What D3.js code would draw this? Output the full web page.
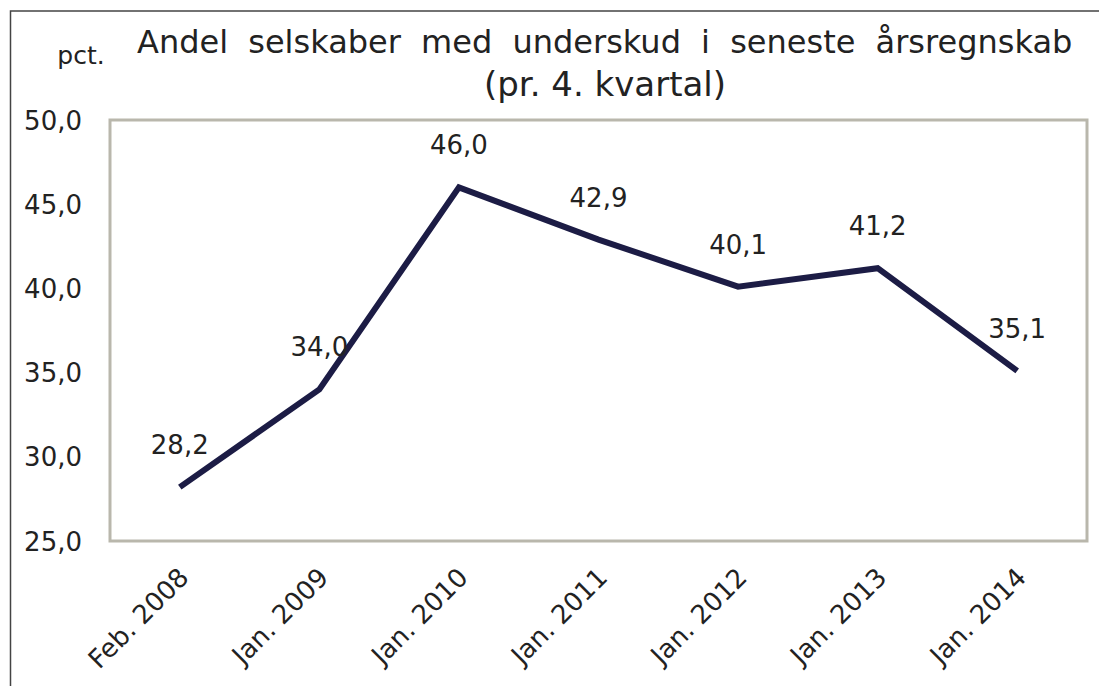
<!DOCTYPE html>
<html>
<head>
<meta charset="utf-8">
<script src="https://cdn.jsdelivr.net/npm/d3@7"></script>
<style>
  body { margin: 0; background: #fff; }
  text { font-family: "DejaVu Sans", Verdana, sans-serif; fill: #222; }
</style>
</head>
<body>
<div id="chart-area"></div>
<script>

// Data
var categories = ["Feb. 2008", "Jan. 2009", "Jan. 2010", "Jan. 2011", "Jan. 2012", "Jan. 2013", "Jan. 2014"];
var values = [28.2, 34.0, 46.0, 42.9, 40.1, 41.2, 35.1];
var yTicks = [25, 30, 35, 40, 45, 50];
var title = "Andel selskaber med underskud i seneste årsregnskab";
var subtitle = "(pr. 4. kvartal)";

var W = 1099, H = 686;
var margin = {top: 120, right: 12, bottom: 145, left: 110};
var width = W - margin.left - margin.right,
    height = H - margin.top - margin.bottom;

var svg = d3.select("#chart-area").append("svg")
    .attr("width", W)
    .attr("height", H);

// outer frame
svg.append("path")
    .attr("d", "M1100,11 H10.5 V690")
    .attr("fill", "none")
    .attr("stroke", "#444")
    .attr("stroke-width", 1.5);

var g = svg.append("g")
    .attr("transform", `translate(${margin.left},${margin.top})`);

var fmt = d => d3.format(".1f")(d).replace(".", ",");

// Scales
var x = d3.scalePoint()
    .domain(categories)
    .range([0, width])
    .padding(0.5);

var y = d3.scaleLinear()
    .domain([25, 50])
    .range([height, 0]);

// plot box
g.append("rect")
    .attr("width", width)
    .attr("height", height)
    .attr("fill", "none")
    .attr("stroke", "#b9b7ac")
    .attr("stroke-width", 3);

// Axes
var yAxis = d3.axisLeft(y).tickValues(yTicks).tickSize(0).tickPadding(28).tickFormat(fmt);
var xAxis = d3.axisBottom(x).tickSize(0).tickPadding(0);

g.append("g")
    .attr("class", "y-axis")
    .call(yAxis)
    .call(a => a.select(".domain").remove())
    .selectAll("text")
    .attr("font-size", 26)
    .attr("dy", "0.35em")
    .attr("fill", "#222");

g.append("g")
    .attr("class", "x-axis")
    .attr("transform", `translate(0,${height})`)
    .call(xAxis)
    .call(a => a.select(".domain").remove())
    .selectAll("text")
    .attr("font-size", 26)
    .attr("fill", "#222")
    .attr("text-anchor", "end")
    .attr("dy", null)
    .attr("y", 0)
    .attr("transform", "translate(10,38) rotate(-45)");

// Line
var line = d3.line()
    .x((d, i) => x(categories[i]))
    .y(d => y(d));

g.append("path")
    .datum(values)
    .attr("fill", "none")
    .attr("stroke", "#1c1c45")
    .attr("stroke-width", 6)
    .attr("stroke-linejoin", "miter")
    .attr("d", line);

// Data labels
g.selectAll(".lbl")
    .data(values)
    .join("text")
    .attr("class", "lbl")
    .attr("x", (d, i) => x(categories[i]))
    .attr("y", d => y(d) - 33)
    .attr("text-anchor", "middle")
    .attr("font-size", 26)
    .text(fmt);

// Titles
svg.append("text")
    .attr("x", 137)
    .attr("y", 53)
    .attr("font-size", 32)
    .attr("word-spacing", 10)
    .text(title);

svg.append("text")
    .attr("x", 605)
    .attr("y", 96)
    .attr("text-anchor", "middle")
    .attr("font-size", 34)
    .text(subtitle);

svg.append("text")
    .attr("x", 81)
    .attr("y", 64)
    .attr("text-anchor", "middle")
    .attr("font-size", 25)
    .text("pct.");

</script>
</body>
</html>
